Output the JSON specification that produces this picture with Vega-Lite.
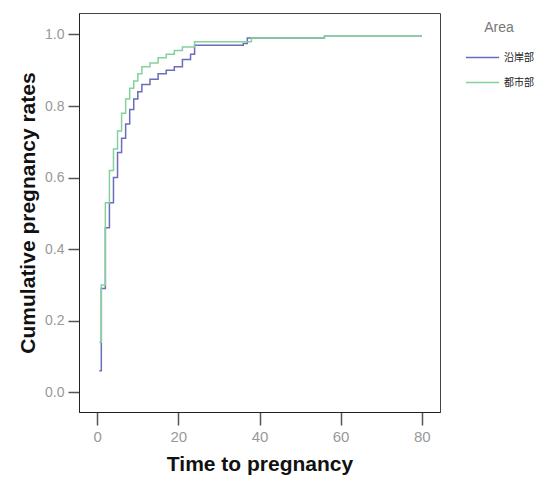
{
  "$schema": "https://vega.github.io/schema/vega-lite/v6.json",
  "width": 361,
  "height": 399,
  "autosize": "none",
  "padding": {"left": 79, "top": 13, "right": 109, "bottom": 65},
  "background": "white",
  "config": {
    "view": {"stroke": "#444", "strokeWidth": 1},
    "font": "Liberation Sans"
  },
  "data": {"values": [
    {"area": "沿岸部", "t": 0.5, "p": 0.06},
    {"area": "沿岸部", "t": 1, "p": 0.29},
    {"area": "沿岸部", "t": 2, "p": 0.46},
    {"area": "沿岸部", "t": 3, "p": 0.53},
    {"area": "沿岸部", "t": 4, "p": 0.60},
    {"area": "沿岸部", "t": 5, "p": 0.67},
    {"area": "沿岸部", "t": 6, "p": 0.71},
    {"area": "沿岸部", "t": 7, "p": 0.75},
    {"area": "沿岸部", "t": 8, "p": 0.79},
    {"area": "沿岸部", "t": 9, "p": 0.82},
    {"area": "沿岸部", "t": 10, "p": 0.84},
    {"area": "沿岸部", "t": 11, "p": 0.86},
    {"area": "沿岸部", "t": 13, "p": 0.875},
    {"area": "沿岸部", "t": 15, "p": 0.89},
    {"area": "沿岸部", "t": 17, "p": 0.90},
    {"area": "沿岸部", "t": 19, "p": 0.91},
    {"area": "沿岸部", "t": 21, "p": 0.93},
    {"area": "沿岸部", "t": 23, "p": 0.945},
    {"area": "沿岸部", "t": 24, "p": 0.97},
    {"area": "沿岸部", "t": 36, "p": 0.975},
    {"area": "沿岸部", "t": 37, "p": 0.99},
    {"area": "沿岸部", "t": 56, "p": 0.995},
    {"area": "沿岸部", "t": 80, "p": 0.995},
    {"area": "都市部", "t": 0.5, "p": 0.14},
    {"area": "都市部", "t": 1, "p": 0.30},
    {"area": "都市部", "t": 2, "p": 0.53},
    {"area": "都市部", "t": 3, "p": 0.62},
    {"area": "都市部", "t": 4, "p": 0.68},
    {"area": "都市部", "t": 5, "p": 0.73},
    {"area": "都市部", "t": 6, "p": 0.78},
    {"area": "都市部", "t": 7, "p": 0.82},
    {"area": "都市部", "t": 8, "p": 0.85},
    {"area": "都市部", "t": 9, "p": 0.87},
    {"area": "都市部", "t": 10, "p": 0.89},
    {"area": "都市部", "t": 11, "p": 0.91},
    {"area": "都市部", "t": 13, "p": 0.92},
    {"area": "都市部", "t": 15, "p": 0.935},
    {"area": "都市部", "t": 17, "p": 0.945},
    {"area": "都市部", "t": 19, "p": 0.955},
    {"area": "都市部", "t": 21, "p": 0.965},
    {"area": "都市部", "t": 24, "p": 0.98},
    {"area": "都市部", "t": 38, "p": 0.99},
    {"area": "都市部", "t": 56, "p": 0.995},
    {"area": "都市部", "t": 80, "p": 0.995}
  ]},
  "mark": {"type": "line", "interpolate": "step-after", "strokeWidth": 1.5, "clip": true},
  "encoding": {
    "x": {
      "field": "t", "type": "quantitative",
      "scale": {"domain": [-4.5, 84.5], "nice": false, "zero": false},
      "axis": {
        "values": [0, 20, 40, 60, 80], "title": "Time to pregnancy",
        "grid": false, "domainColor": "#222", "tickColor": "#555", "tickSize": 13, "tickWidth": 1.5,
        "labelColor": "#999", "labelFontSize": 15, "labelPadding": 4,
        "titleFontSize": 21, "titleFontWeight": "bold", "titleColor": "#111", "titlePadding": 9
      }
    },
    "y": {
      "field": "p", "type": "quantitative",
      "scale": {"domain": [-0.055, 1.06], "nice": false, "zero": false},
      "axis": {
        "values": [0, 0.2, 0.4, 0.6, 0.8, 1.0], "format": ".1f", "title": "Cumulative pregnancy rates",
        "grid": false, "domainColor": "#222", "tickColor": "#555", "tickSize": 11, "tickWidth": 1.5,
        "labelColor": "#999", "labelFontSize": 14, "labelPadding": 4,
        "titleFontSize": 21, "titleFontWeight": "bold", "titleColor": "#111", "titlePadding": 6
      }
    },
    "color": {
      "field": "area", "type": "nominal",
      "scale": {"domain": ["沿岸部", "都市部"], "range": ["#6a6db8", "#84d29a"]},
      "legend": {
        "title": "Area", "orient": "none", "legendX": 386, "legendY": 8,
        "titleFontSize": 14, "titleFontWeight": "normal", "titleColor": "#777", "titleAnchor": "middle",
        "labelFont": "Noto Sans CJK JP", "labelFontSize": 10, "labelColor": "#222",
        "symbolType": "stroke", "symbolSize": 1100, "symbolStrokeWidth": 1.5, "rowPadding": 2
      }
    }
  }
}
